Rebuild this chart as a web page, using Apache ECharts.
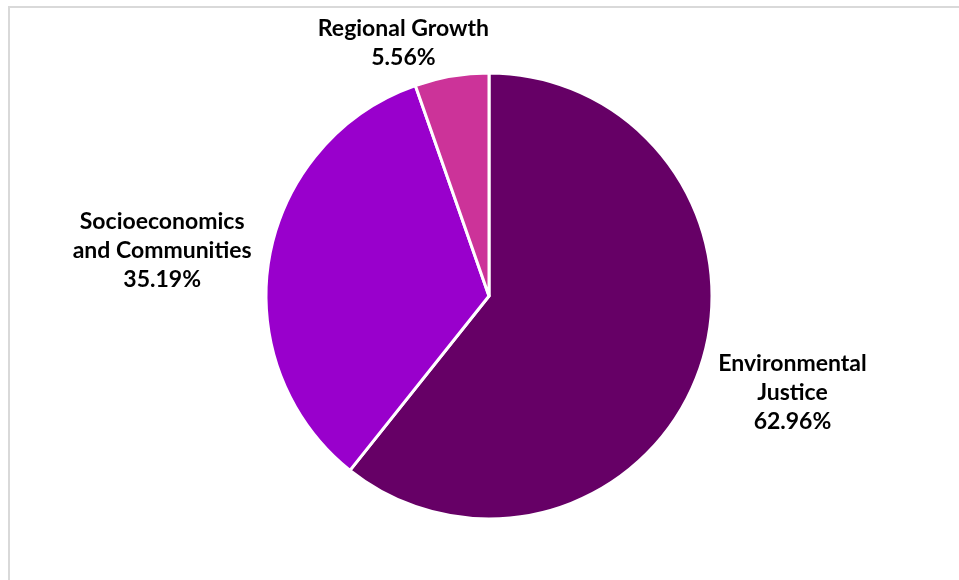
<!DOCTYPE html>
<html>
<head>
<meta charset="utf-8">
<script src="https://cdn.jsdelivr.net/npm/echarts@6/dist/echarts.min.js"></script>
<style>
  html, body { margin: 0; padding: 0; background: #fff; }
  #chart { width: 959px; height: 580px; }
  /* grey frame of the original chart area (only top and left edges are visible) */
  .frame {
    position: absolute; left: 8px; top: 6px; width: 980px; height: 600px;
    border-top: 2px solid #d9d9d9; border-left: 2px solid #d9d9d9;
    pointer-events: none;
  }
</style>
</head>
<body>
<div id="chart"></div>
<div class="frame"></div>
<script>
// data
const categories = ["Environmental Justice", "Socioeconomics and Communities", "Regional Growth"];
const labelNames = ["Environmental\nJustice", "Socioeconomics\nand Communities", "Regional Growth"];
const counts = [34, 19, 3];
const shares = ["62.96%", "35.19%", "5.56%"];

const colors = ["#660066", "#9900CC", "#CC3399"];
const center = [489, 296];
const radius = 223;
// small per-label nudges to follow Excel's best-fit placement
const nudge = [[2, -9], [-1, 10], [-39, 21]];

const total = counts.reduce((a, b) => a + b, 0);
let acc = 0;
const midAngles = counts.map((v) => {
  const a = (acc + v / 2) / total * Math.PI * 2;
  acc += v;
  return a;
});

const myChart = echarts.init(document.getElementById("chart"));
myChart.setOption({
  animation: false,
  color: colors,
  series: [
    {
      type: "pie",
      center: center,
      radius: radius,
      startAngle: 90,
      clockwise: true,
      data: categories.map((name, i) => ({ name: name, value: counts[i] })),
      itemStyle: { borderColor: "#fff", borderWidth: 3 },
      label: {
        show: true,
        position: "outside",
        formatter: (p) => labelNames[p.dataIndex] + "\n" + shares[p.dataIndex],
        fontFamily: "Lato",
        fontWeight: "bold",
        fontSize: 23,
        lineHeight: 29,
        color: "#000",
        align: "center",
      },
      labelLine: { show: false },
      labelLayout: function (params) {
        const i = params.dataIndex;
        const a = midAngles[i];
        const ux = Math.sin(a), uy = -Math.cos(a);
        const hw = params.labelRect.width / 2, hh = params.labelRect.height / 2;
        const d = radius + 12 + Math.abs(ux) * hw + Math.abs(uy) * hh;
        return {
          x: center[0] + ux * d + nudge[i][0],
          y: center[1] + uy * d + nudge[i][1],
          align: "center",
          verticalAlign: "middle",
        };
      },
    },
  ],
});
</script>
</body>
</html>
